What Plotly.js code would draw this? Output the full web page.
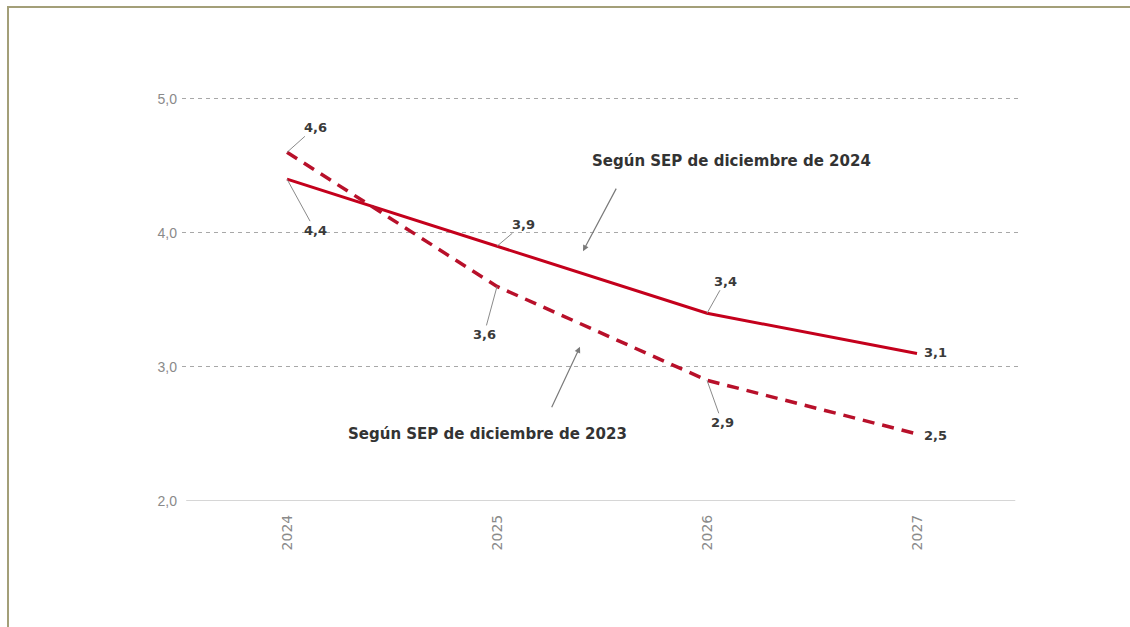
<!DOCTYPE html>
<html><head><meta charset="utf-8">
<script src="https://cdn.plot.ly/plotly-3.0.1.min.js"></script>
<style>
html,body{margin:0;padding:0;background:#fff;overflow:hidden}
#chart{width:1130px;height:627px;position:absolute;left:0;top:0}
#frame{position:absolute;left:7px;top:6px;width:1200px;height:700px;border-left:2px solid #a39f78;border-top:2px solid #a39f78;pointer-events:none}
</style></head>
<body>
<div id="chart"></div>
<div id="frame"></div>
<script>
var years = ['2024','2025','2026','2027'];
var sep2024 = [4.4, 3.9, 3.4, 3.1];
var sep2023 = [4.6, 3.6, 2.9, 2.5];
var yTicks = [2, 3, 4, 5];
var yTickText = ['2,0','3,0','4,0','5,0'];
var name2024 = 'Según SEP de diciembre de 2024';
var name2023 = 'Según SEP de diciembre de 2023';

var traces = [
  {x: years, y: sep2024, type:'scatter', mode:'lines', name:name2024,
   line:{color:'#c4001c', width:3}},
  {x: years, y: sep2023, type:'scatter', mode:'lines', name:name2023,
   line:{color:'#b8102a', width:3.5, dash:'12px,8px'}}
];

// label offsets (pixels) for leader lines
var off2024 = [[28,51],[26,-22],[18,-32],[18,-1]];
var off2023 = [[28,-25],[-13,48],[15,42],[18,2]];
var lblFont = {family:'DejaVu Sans, sans-serif', size:13, color:'#3a3a3a', weight:'bold'};
var ann = [];
function addLabels(vals, offs){
  vals.forEach(function(v,i){
    var o = offs[i];
    var last = (i === vals.length-1);
    ann.push({x: i, y: v, xref:'x', yref:'y',
      text: v.toFixed(1).replace('.',','),
      showarrow: !last, arrowhead:0, arrowwidth:1, arrowcolor:'#8a8a8a',
      ax: o[0], ay: o[1], standoff:0, startstandoff:0,
      xshift: last ? o[0] : 0, yshift: last ? -o[1] : 0,
      font: lblFont});
  });
}
addLabels(sep2024, off2024);
addLabels(sep2023, off2023);

var noteFont = {family:'DejaVu Sans, sans-serif', size:15, color:'#333', weight:'bold'};
ann.push({xref:'paper', yref:'paper', x:(731-182)/840, y:(501-153)/402, text:name2024,
  showarrow:false, font:noteFont});
ann.push({xref:'paper', yref:'paper', x:(487-182)/840, y:(501-445)/402, text:name2023,
  showarrow:false, font:noteFont});
// pointer arrows
ann.push({xref:'paper', yref:'paper', x:(583-182)/840, y:(501-253)/402, text:'',
  showarrow:true, arrowhead:2, arrowsize:1, arrowwidth:1.2, arrowcolor:'#7a7a7a',
  ax:34, ay:-64});
ann.push({xref:'paper', yref:'paper', x:(580-182)/840, y:(501-348)/402, text:'',
  showarrow:true, arrowhead:2, arrowsize:1, arrowwidth:1.2, arrowcolor:'#7a7a7a',
  ax:-29, ay:62});

var layout = {
  width:1130, height:627,
  margin:{l:182, r:108, t:96, b:126},
  paper_bgcolor:'#fff', plot_bgcolor:'#fff',
  showlegend:false,
  font:{family:'Liberation Sans, Arial, sans-serif', color:'#888'},
  xaxis:{type:'category', range:[-0.5,3.5], tickangle:-90,
    showgrid:false, zeroline:false, showline:false, ticks:'',
    tickfont:{family:'DejaVu Sans, sans-serif', size:14, color:'#8a8a8a'}, ticklabelstandoff:10},
  yaxis:{range:[2,5.02], tickvals:yTicks, ticktext:yTickText,
    showgrid:true, gridcolor:'#a8a8a8', griddash:'4px,4px', gridwidth:1,
    zeroline:false, showline:false, ticks:'',
    tickfont:{size:14, color:'#8a8a8a'}, ticklabelstandoff:4},
  shapes:[{type:'line', xref:'paper', yref:'y', x0:0.005, x1:0.992, y0:2, y1:2,
    line:{color:'#c8c8c8', width:1.5}}],
  annotations: ann
};
Plotly.newPlot('chart', traces, layout, {staticPlot:true, displayModeBar:false});
</script>
</body></html>
